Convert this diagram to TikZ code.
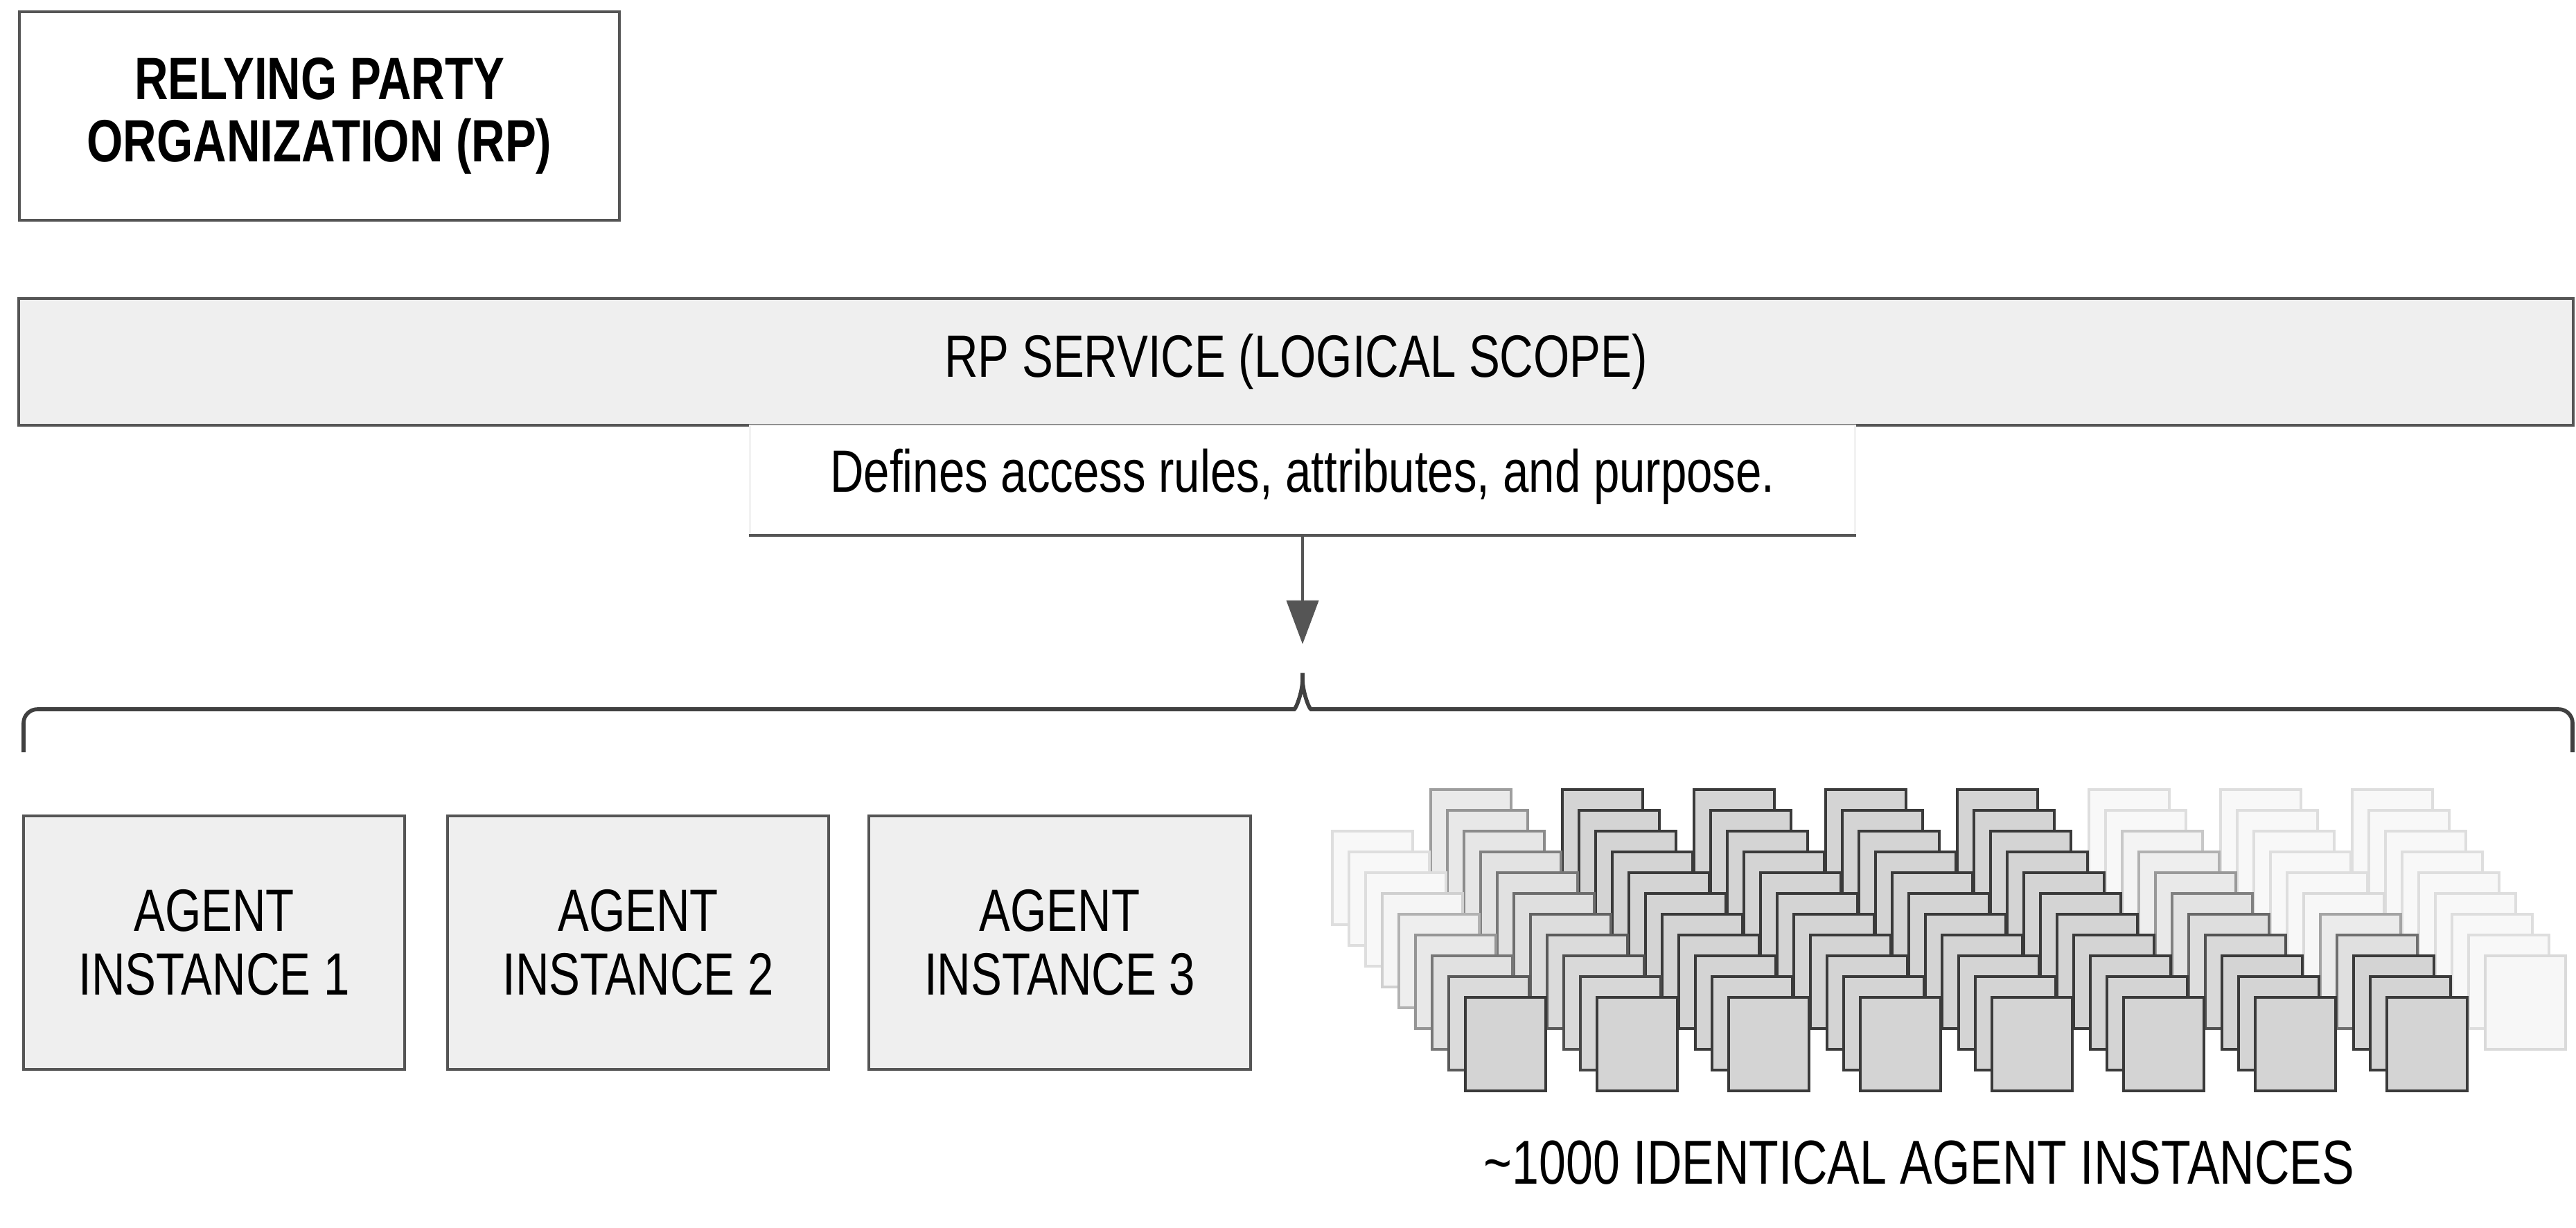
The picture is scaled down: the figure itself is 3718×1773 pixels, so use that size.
\documentclass[tikz,border=0pt]{standalone}
\usepackage{fontspec}
\setmainfont{Liberation Sans}[FakeStretch=0.78]
\usetikzlibrary{arrows.meta}
\definecolor{edge}{HTML}{555555}
\definecolor{boxfill}{HTML}{EFEFEF}
\definecolor{cardline}{HTML}{3A3A3A}
\definecolor{cardfill}{HTML}{D4D4D4}
\begin{document}
\begin{tikzpicture}[x=0.01cm,y=-0.01cm,
  txt/.style={font=\fontsize{24.5}{26}\selectfont, text=black},
  box/.style={txt, draw=edge, line width=1.2pt, inner sep=0pt, align=center},
  agentbox/.style={box, fill=boxfill, minimum width=5.5cm, minimum height=3.66cm},
  bracestyle/.style={draw=black!75, line width=1.6pt, rounded corners=0.2cm},
  arrowstyle/.style={draw=edge, line width=1.1pt, -{Triangle[length=0.63cm,width=0.46cm]}},
  cardstyle/.style={line width=1pt}]
\useasboundingbox (0,0) rectangle (3718,1773);

% top boxes
\node[box, font=\fontsize{24.5}{25.5}\selectfont\bfseries, minimum width=8.66cm, minimum height=3.01cm] (rp) at (461,167.5) {RELYING PARTY\\ORGANIZATION (RP)};
\node[box, fill=boxfill, minimum width=36.85cm, minimum height=1.83cm] (svc) at (1870.5,522.5) {RP SERVICE (LOGICAL SCOPE)};

% description
\node[txt, draw=black!5, line width=0.6pt, fill=white, minimum width=15.94cm, minimum height=1.58cm, inner sep=0pt] (descbox) at (1880,693) {};
\node[txt, anchor=base] (desc) at (1880,710) {Defines access rules, attributes, and purpose.};
\draw[edge, line width=1.2pt] (descbox.south west) -- (descbox.south east);

% arrow and brace
\coordinate (arrstart) at (descbox.south);
\coordinate (arrend) at (1880,930);
\draw[arrowstyle] (arrstart) -- (arrend);
\coordinate (tip) at (1880,960);
\draw[bracestyle] (34,1086) -- (34,1024) -- (1848,1024)
  .. controls (1870,1024) and (1880,1000) .. (tip)
  .. controls (1880,1000) and (1890,1024) .. (1912,1024) -- (3713,1024) -- (3713,1086);

% agent instances
\node[agentbox] (a1) at (309,1361) {AGENT\\INSTANCE 1};
\node[agentbox] (a2) at (921,1361) {AGENT\\INSTANCE 2};
\node[agentbox] (a3) at (1529.5,1361) {AGENT\\INSTANCE 3};

% stack of identical instances
\foreach \j in {10,9,...,0}{
  \foreach \i in {0,...,8}{
    \pgfmathsetmacro\cx{2115+190*\i-24*\j}
    \pgfmathsetmacro\cy{1440-30*\j}
    \pgfmathtruncatemacro\showit{(\cx>=1855)*(\cx<=3600)*(((\i>0)||(\j<=8))?1:0)}
    \pgfmathsetmacro\fL{max(0,1.5-\i)*\j*0.1}
    \pgfmathsetmacro\fR{max(0,\i-5.2)*max(0,\j-2)*0.15}
    \pgfmathsetmacro\fE{(\i==8)*0.8}
    \pgfmathtruncatemacro\p{100*(1-min(0.82,\fL+\fR+\fE))}
    \ifnum\showit=1
      \draw[cardstyle, draw=cardline!\p!white, fill=cardfill!\p!white] (\cx,\cy) rectangle ++(116,135);
    \fi
  }
}

\node[txt, font=\fontsize{25.5}{27}\selectfont] (many) at (2770,1679) {\textasciitilde1000 IDENTICAL AGENT INSTANCES};
\end{tikzpicture}
\end{document}
